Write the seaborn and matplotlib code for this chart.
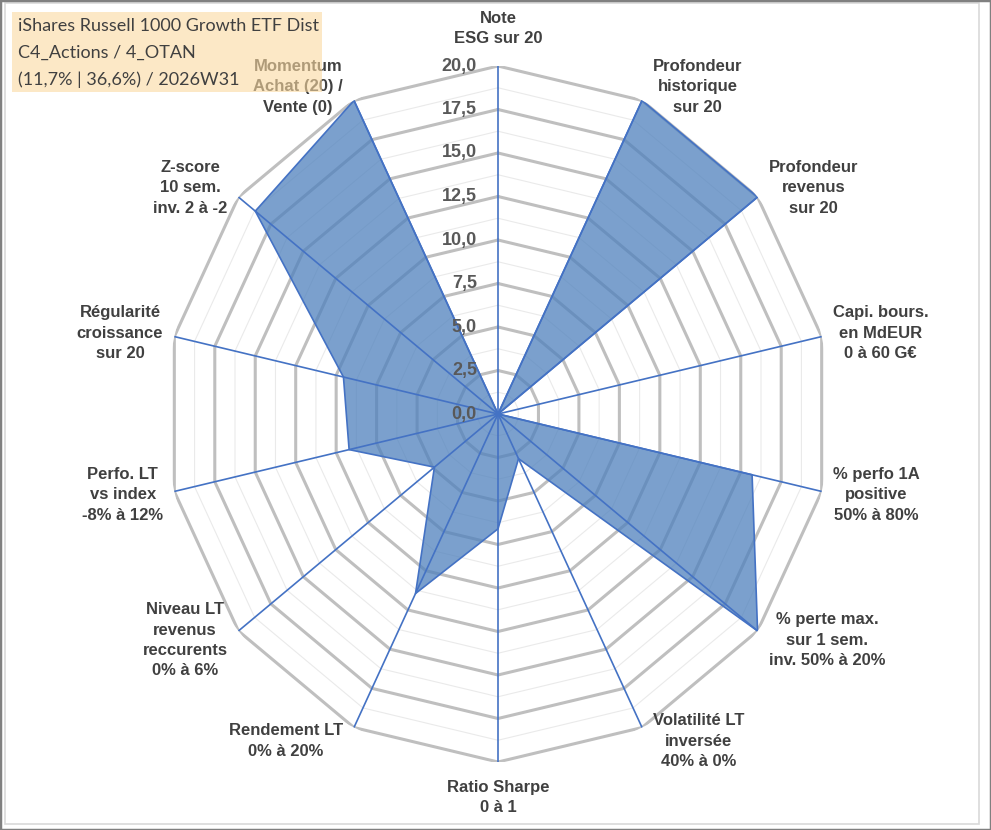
import numpy as np
import matplotlib
matplotlib.use("Agg")
import matplotlib.pyplot as plt
from matplotlib.patches import Rectangle
import seaborn as sns

# Axes du radar (sens horaire, en partant du haut)
criteres = [
    "Note\nESG sur 20",
    "Profondeur\nhistorique\nsur 20",
    "Profondeur\nrevenus\nsur 20",
    "Capi. bours.\nen MdEUR\n0 à 60 G€",
    "% perfo 1A\npositive\n50% à 80%",
    "% perte max.\nsur 1 sem.\ninv. 50% à 20%",
    "Volatilité LT\ninversée\n40% à 0%",
    "Ratio Sharpe\n0 à 1",
    "Rendement LT\n0% à 20%",
    "Niveau LT\nrevenus\nreccurents\n0% à 6%",
    "Perfo. LT\nvs index\n-8% à 12%",
    "Régularité\ncroissance\nsur 20",
    "Z-score\n10 sem.\ninv. 2 à -2",
    "Momentum\nAchat (20) /\nVente (0)",
]
notes = [0, 20, 20, 0, 15.7, 20, 2.85, 6.6, 11.45, 4.9, 9.2, 9.55, 18.7, 20]

niveaux = [0.0, 2.5, 5.0, 7.5, 10.0, 12.5, 15.0, 17.5, 20.0]
niveaux_mineurs = [1.25, 3.75, 6.25, 8.75, 11.25, 13.75, 16.25, 18.75]
etiquettes_niveaux = ["0,0", "2,5", "5,0", "7,5", "10,0", "12,5", "15,0", "17,5", "20,0"]

titre = [
    "iShares Russell 1000 Growth ETF Dist",
    "C4_Actions / 4_OTAN",
    "(11,7% | 36,6%) / 2026W31",
]

sns.set_style("white")
plt.rcParams["font.family"] = ["Liberation Sans", "DejaVu Sans"]

W, H = 991, 830
fig = plt.figure(figsize=(W / 100, H / 100), dpi=100)
fig.patch.set_facecolor("white")

# centre du radar vers (498, 414) px, rayon 332 px en x et 348 px en y
ax = fig.add_axes([166 / W, (H - 414 - 348) / H, 664 / W, 696 / H], projection="polar")
ax.set_theta_zero_location("N")
ax.set_theta_direction(-1)
ax.set_ylim(0, 20)
ax.set_aspect("auto")
ax.set_facecolor("white")

n = len(criteres)
angles = np.linspace(0, 2 * np.pi, n, endpoint=False)
angles_fermes = np.append(angles, angles[0] + 2 * np.pi)
notes_fermees = np.append(notes, notes[0])

# grille polygonale
for r in niveaux_mineurs:
    ax.plot(angles_fermes, [r] * (n + 1), color="#EAEAEA", lw=0.8, zorder=1)
for r in niveaux[1:]:
    ax.plot(angles_fermes, [r] * (n + 1), color="#BFBFBF", lw=2.2, zorder=1)

# surface de la série
ax.fill(angles_fermes, notes_fermees, color="#4F81BD", alpha=0.75, lw=0, zorder=2)

# rayons
for t in angles:
    ax.plot([t, t], [0, 20], color="#4472C4", lw=1.2, zorder=3)

sns.lineplot(x=angles_fermes, y=notes_fermees, sort=False, color="#4472C4",
             lw=1.2, ax=ax, zorder=4)

ax.set_xlabel("")
ax.set_ylabel("")
ax.set_xticks([])
ax.set_yticks([])
ax.grid(False)
ax.spines["polar"].set_visible(False)

# valeurs de l'axe
for r, lab in zip(niveaux, etiquettes_niveaux):
    ax.annotate(lab, xy=(0, r), xytext=(-21, 0), textcoords="offset pixels",
                ha="right", va="center", fontsize=13, fontweight="bold",
                color="#595959", annotation_clip=False, zorder=5)

# libellés des critères
for t, lab in zip(angles, criteres):
    s, c = np.sin(t), np.cos(t)
    if abs(s) < 0.1:
        ha = "center"
        va = "bottom" if c > 0 else "top"
        dx, dy = 0, (20 if c > 0 else -18)
    else:
        ha = "left" if s > 0 else "right"
        va = "center"
        dx, dy = 11 * np.sign(s), 15 * c
    ax.annotate(lab, xy=(t, 20), xytext=(dx, dy), textcoords="offset pixels",
                ha=ha, va=va, multialignment="center", fontsize=12,
                fontweight="bold", color="#404040", linespacing=1.45,
                annotation_clip=False, zorder=5)

# cartouche titre
fig.patches.append(Rectangle((12 / W, 1 - 92 / H), 310 / W, 80 / H,
                             transform=fig.transFigure, facecolor="#FBD9A0",
                             alpha=0.6, lw=0, zorder=1))
for i, ligne in enumerate(titre):
    fig.text(18 / W, 1 - (26 + 27 * i) / H, ligne, va="center", ha="left",
             fontsize=13, family=["Lato", "DejaVu Sans"], color="#404040", zorder=3)

# cadres
fig.patches.append(Rectangle((5 / W, 1 - 824 / H), 974 / W, 821 / H,
                             transform=fig.transFigure, fill=False,
                             ec="#D9D9D9", lw=1.2, zorder=2))
fig.patches.append(Rectangle((0, 0), 1, 1, transform=fig.transFigure, fill=False,
                             ec="#808080", lw=2.5, zorder=2))

fig.savefig("out.png", dpi=100)
